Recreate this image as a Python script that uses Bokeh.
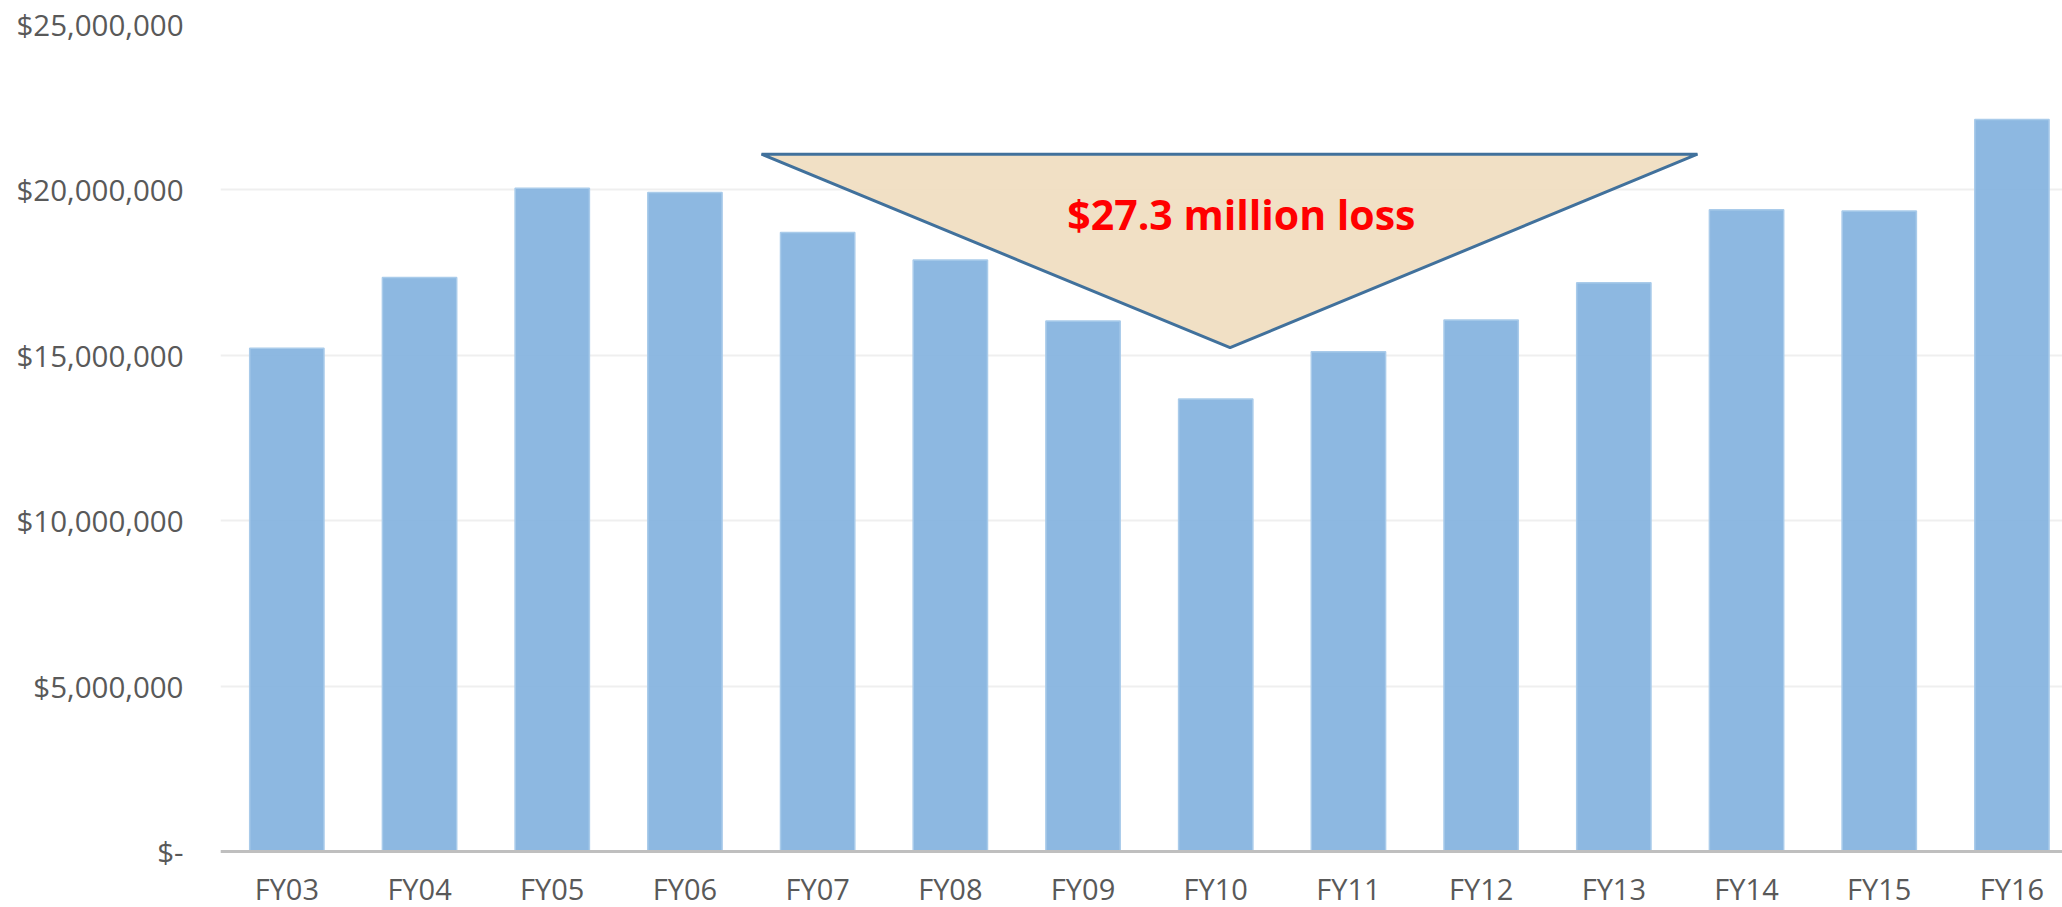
from bokeh.plotting import figure
from bokeh.models import Range1d, FixedTicker, NumeralTickFormatter, Span
from bokeh.core.properties import value
from bokeh.embed import file_html
from bokeh.resources import INLINE

# ---- data ----
categories = ["FY03", "FY04", "FY05", "FY06", "FY07", "FY08", "FY09",
              "FY10", "FY11", "FY12", "FY13", "FY14", "FY15", "FY16"]
revenue = [15210000, 17350000, 20050000, 19920000, 18710000, 17880000, 16040000,
           13680000, 15110000, 16070000, 17190000, 19400000, 19360000, 22130000]
y_ticks = [0, 5000000, 10000000, 15000000, 20000000, 25000000]

# annotation (callout triangle) in data units
tri_x = [3.577, 10.63, 7.108]
tri_y = [21080000, 21080000, 15230000]
note_text = "$27.3 million loss"
note_x = 7.193
note_y = 19260000

# category label row sits below the zero line (data units)
cat_label_y = -1120000

xs = list(range(len(categories)))

p = figure(width=2062, height=907, output_backend="svg", toolbar_location=None,
           x_range=Range1d(-0.5, 13.381), y_range=Range1d(-1693000, 25000000),
           min_border_left=220, min_border_right=0, min_border_top=24,
           min_border_bottom=0)
p.outline_line_color = None
p.background_fill_color = "white"
p.border_fill_color = "white"

# grid
p.xgrid.visible = False
p.ygrid.grid_line_color = "#EFEFEF"
p.ygrid.grid_line_width = 2
p.ygrid.ticker = FixedTicker(ticks=y_ticks)

# bars
p.vbar(x=xs, top=revenue, width=0.56, bottom=0,
       fill_color="#83B2DE", fill_alpha=0.92,
       line_color="#A9CBEA", line_width=1.5)

# baseline (category axis line)
p.add_layout(Span(location=0, dimension="width", line_color="#BFBFBF", line_width=3))

# category labels
p.text(x=xs, y=[cat_label_y] * len(xs), text=categories,
       text_font=value("Open Sans"), text_font_size="29px", text_color="#595959",
       text_align="center", text_baseline="middle")

# callout
p.patch(tri_x, tri_y, fill_color="#EFDDBF", fill_alpha=0.9,
        line_color="#41719C", line_width=3)
p.text(x=[note_x], y=[note_y], text=[note_text],
       text_font=value("Open Sans"), text_font_style="bold",
       text_font_size="41px", text_color="#FF0000",
       text_align="center", text_baseline="middle")

# y axis
ya = p.yaxis[0]
ya.ticker = FixedTicker(ticks=y_ticks)
ya.formatter = NumeralTickFormatter(format="$0,0")
ya.major_label_overrides = {0: "$-"}
ya.axis_line_color = None
ya.major_tick_line_color = None
ya.minor_tick_line_color = None
ya.major_tick_out = 0
ya.major_label_standoff = 37
ya.major_label_text_font = "Open Sans"
ya.major_label_text_font_size = "29.5px"
ya.major_label_text_color = "#595959"

# x axis (labels drawn as category text row above)
p.xaxis.visible = False

open("out.html", "w").write(file_html(p, INLINE))
